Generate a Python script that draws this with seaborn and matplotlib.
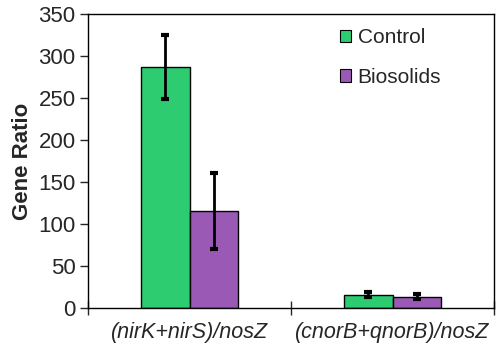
import pandas as pd
import matplotlib
matplotlib.use("Agg")
import matplotlib.pyplot as plt
import seaborn as sns

# Values
categories = ["(nirK+nirS)/nosZ", "(cnorB+qnorB)/nosZ"]
treatments = ["Control", "Biosolids"]
control_mean = [287, 15.5]
control_err = [38, 3]
biosolids_mean = [115.5, 13]
biosolids_err = [45, 3]

df = pd.DataFrame({
    "Gene": categories * 2,
    "Treatment": [treatments[0]] * 2 + [treatments[1]] * 2,
    "Ratio": control_mean + biosolids_mean,
    "Err": control_err + biosolids_err,
})

sns.set_style("white")
plt.rcParams["font.family"] = ["Liberation Sans", "DejaVu Sans"]

fig, ax = plt.subplots(figsize=(4.98, 3.51), dpi=100)
sns.barplot(data=df, x="Gene", y="Ratio", hue="Treatment",
            palette=["#2ecc71", "#9b59b6"], saturation=1, width=0.48,
            errorbar=None, edgecolor="black", linewidth=1, ax=ax)

# error bars, placed on the bar centres seaborn drew
bar_containers = [c for c in ax.containers if len(c.patches) == len(categories)]
for cont, name in zip(bar_containers, treatments):
    sub = df[df["Treatment"] == name]
    xs = [p.get_x() + p.get_width() / 2 for p in cont.patches]
    ax.errorbar(xs, sub["Ratio"].values, yerr=sub["Err"].values, fmt="none",
                ecolor="black", elinewidth=2, capsize=3, capthick=3, zorder=5)

ax.set_ylim(0, 350)
ax.set_xlim(-0.5, 1.5)
ax.set_yticks(range(0, 351, 50))
ax.set_xticks([-0.5, 0.5, 1.5], minor=True)
ax.set_xticks([0, 1])
ax.set_xticklabels(categories, fontstyle="italic", fontsize=15.5)
ax.tick_params(axis="x", which="major", length=0, pad=10)
ax.tick_params(axis="x", which="minor", length=10, width=1, direction="inout", bottom=True)
ax.tick_params(axis="y", labelsize=16, length=6, width=1, direction="out", left=True, pad=3)
ax.set_xlabel("")
ax.set_ylabel("Gene Ratio", fontsize=16, fontweight="bold", labelpad=4)
for s in ax.spines.values():
    s.set_color("black")
    s.set_linewidth(1)

leg = ax.legend(loc="upper right", frameon=False, fontsize=15,
                handlelength=0.55, handleheight=0.55, handletextpad=0.3,
                labelspacing=1.0, borderaxespad=0, bbox_to_anchor=(0.89, 0.98))
for h in leg.legend_handles:
    h.set_edgecolor("black")
    h.set_linewidth(0.8)

fig.subplots_adjust(left=0.177, right=0.992, top=0.96, bottom=0.123)
fig.savefig("out.png", dpi=100)
